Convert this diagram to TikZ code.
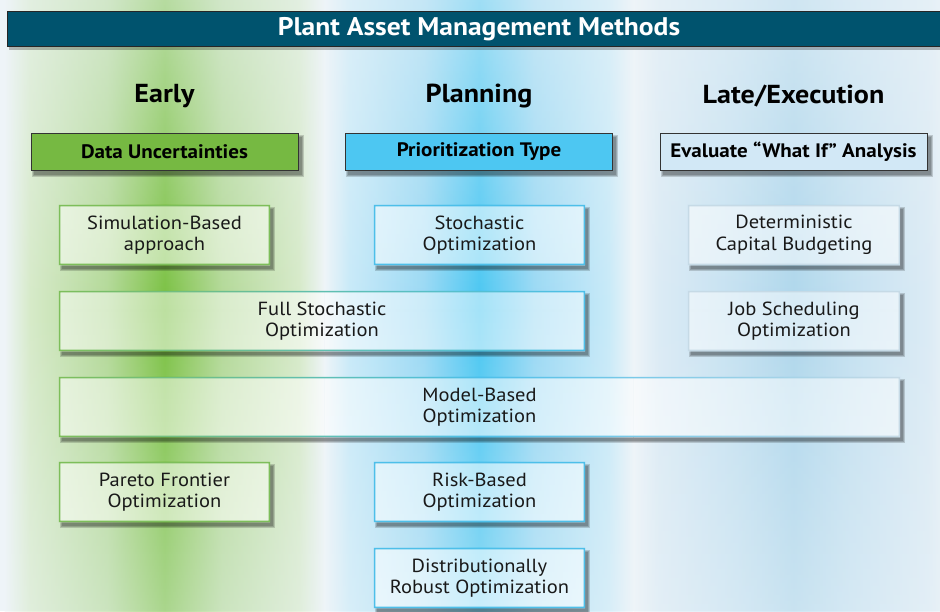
\documentclass[tikz,border=0pt]{standalone}
\usepackage{fontspec}
\setmainfont{PT Sans}[FakeStretch=1.08]
\usetikzlibrary{fadings}
\definecolor{bgc}{HTML}{EEF4F8}
\definecolor{gcore}{HTML}{7BC142}
\definecolor{gmid}{HTML}{B3D997}
\definecolor{glight}{HTML}{D6EAC8}
\definecolor{ccore}{HTML}{4AC7F2}
\definecolor{cmid}{HTML}{9AD9F4}
\definecolor{clight}{HTML}{C8EAF8}
\definecolor{bcore}{HTML}{AFD7EC}
\definecolor{bmid}{HTML}{C4E1F1}
\definecolor{blight}{HTML}{DBEBF5}
\definecolor{titlebg}{HTML}{00536E}
\definecolor{hgreen}{HTML}{76B942}
\definecolor{hcyan}{HTML}{4DC7F2}
\definecolor{hlight}{HTML}{D2E8F6}
\definecolor{bdgreen}{HTML}{7DBE5A}
\definecolor{bdcyan}{HTML}{4DBFE9}
\definecolor{bdlight}{HTML}{C6DAE6}
\pgfdeclarehorizontalshading{gband}{100bp}{color(0bp)=(bgc); color(25bp)=(bgc); color(29bp)=(glight); color(41bp)=(gmid); color(50bp)=(gcore); color(59bp)=(gmid); color(71bp)=(glight); color(75bp)=(bgc); color(100bp)=(bgc)}
\pgfdeclarehorizontalshading{cband}{100bp}{color(0bp)=(bgc); color(25bp)=(bgc); color(29bp)=(clight); color(41bp)=(cmid); color(50bp)=(ccore); color(59bp)=(cmid); color(71bp)=(clight); color(75bp)=(bgc); color(100bp)=(bgc)}
\pgfdeclarehorizontalshading{bband}{100bp}{color(0bp)=(bgc); color(25bp)=(bgc); color(29bp)=(blight); color(41bp)=(bmid); color(50bp)=(bcore); color(59bp)=(bmid); color(71bp)=(blight); color(75bp)=(bgc); color(100bp)=(bgc)}
\tikzfading[name=vfade, top color=transparent!55, bottom color=transparent!45, middle color=transparent!0]
\pgfdeclarelayer{bgl}
\pgfdeclarelayer{midl}
\pgfsetlayers{bgl,midl,main}
\newcommand\drawbands[1]{%
  \shade[shading=gband, path fading=vfade, fill opacity=#1] (4.5,-20) rectangle (324.5,640);
  \shade[shading=cband, path fading=vfade, fill opacity=#1] (324.5,-20) rectangle (633.5,640);
  \shade[shading=bband, path fading=vfade, fill opacity=#1] (633.5,-20) rectangle (953.5,640);
}
\newcommand\shadowof[1]{%
  \foreach \e in {0,1,2}{
    \fill[black, opacity=0.16] ([shift={({3pt-\e*1pt},{-4pt-\e*1pt})}]#1.south west) rectangle ([shift={({3pt+\e*1pt},{-4pt+\e*1pt})}]#1.north east);
  }%
}
\newcommand\boxbg[4]{%
  \shadowof{#1}
  \fill[white] (#1.south west) rectangle (#1.north east);
  \begin{scope}
    \clip (#1.south west) rectangle (#1.north east);
    \drawbands{0.5}
  \end{scope}
  \shade[even odd rule, left color=#2, right color=#4, middle color=#3]
    (#1.south west) rectangle (#1.north east)
    ([shift={(1.6pt,1.6pt)}]#1.south west) rectangle ([shift={(-1.6pt,-1.6pt)}]#1.north east);
}
\tikzset{
  tbox/.style={minimum height=60pt, inner sep=0pt, align=center, text=black!90,
    font=\fontsize{19}{21.5}\selectfont},
  hbox/.style={minimum width=267pt, minimum height=37pt, inner sep=0pt, draw=black!80,
    line width=1pt, text=black, font=\fontsize{19.5}{22}\selectfont\bfseries},
  coltitle/.style={font=\fontsize{26}{30}\selectfont\bfseries, text=black, inner sep=0pt},
}
\begin{document}
\begin{tikzpicture}[x=1pt, y=-1pt]
\useasboundingbox (0,0) rectangle (940,611);
\begin{pgfonlayer}{bgl}
  \fill[bgc] (0,0) rectangle (940,611);
  \drawbands{1}
\end{pgfonlayer}

% title bar
\fill[black, opacity=0.25] (9,14) rectangle (945,50);
\node[draw=black!85, line width=1pt, fill=titlebg, minimum width=940pt, minimum height=35pt,
  anchor=north west, inner sep=0pt] (bar) at (7,11) {};
\node[text=white, font=\fontsize{25.5}{28}\selectfont\bfseries] (title) at (479,29) {Plant Asset Management Methods};

% column titles
\node[coltitle] (early) at (164.5,96) {Early};
\node[coltitle] (plan) at (479,96) {Planning};
\node[coltitle] (late) at (793.5,96) {Late/Execution};

% header boxes
\node[hbox, fill=hgreen] (hdata) at (164.5,151.5) {Data Uncertainties};
\node[hbox, fill=hcyan] (hprio) at (479,151.5) {Prioritization Type};
\node[hbox, fill=hlight] (heval) at (793.5,151.5) {Evaluate \char"201CWhat If\char"201D\ Analysis};

% method boxes
\node[tbox, minimum width=211pt] (sim) at (164.5,235) {Simulation-Based\\approach};
\node[tbox, minimum width=211pt] (sto) at (479.5,235) {Stochastic\\Optimization};
\node[tbox, minimum width=212pt] (det) at (794,235) {Deterministic\\Capital Budgeting};
\node[tbox, minimum width=526pt] (full) at (322,321) {Full Stochastic\\Optimization};
\node[tbox, minimum width=212pt] (job) at (794,321) {Job Scheduling\\Optimization};
\node[tbox, minimum width=841pt] (model) at (479.5,407) {Model-Based\\Optimization};
\node[tbox, minimum width=211pt] (pareto) at (164.5,492) {Pareto Frontier\\Optimization};
\node[tbox, minimum width=211pt] (risk) at (479.5,492) {Risk-Based\\Optimization};
\node[tbox, minimum width=211pt] (dist) at (479.5,578) {Distributionally\\Robust Optimization};

\begin{pgfonlayer}{midl}
  \shadowof{hdata}
  \shadowof{hprio}
  \shadowof{heval}
  \boxbg{sim}{bdgreen}{bdgreen}{bdgreen}
  \boxbg{sto}{bdcyan}{bdcyan}{bdcyan}
  \boxbg{det}{bdlight}{bdlight}{bdlight}
  \boxbg{full}{bdgreen}{bdcyan!60!bdgreen}{bdcyan}
  \boxbg{job}{bdlight}{bdlight}{bdlight}
  \boxbg{model}{bdgreen}{bdcyan}{bdlight}
  \boxbg{pareto}{bdgreen}{bdgreen}{bdgreen}
  \boxbg{risk}{bdcyan}{bdcyan}{bdcyan}
  \boxbg{dist}{bdcyan}{bdcyan}{bdcyan}
\end{pgfonlayer}
\end{tikzpicture}
\end{document}
